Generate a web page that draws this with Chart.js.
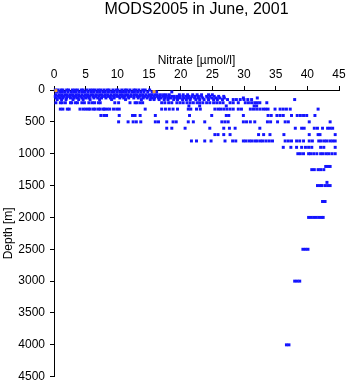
<!DOCTYPE html>
<html>
<head>
<meta charset="utf-8">
<script src="https://cdn.jsdelivr.net/npm/chart.js@4.4.0/dist/chart.umd.min.js"></script>
<style>
  body { margin: 0; background: #fff; }
  canvas { display: block; }
</style>
</head>
<body>
<canvas id="myChart" width="348" height="384"></canvas>
<script>
// standard depth levels [m] and the nitrate readings [umol/l] found at each
var depthLevels = [0, 30, 75, 100, 125, 150, 200, 250, 300, 400, 500, 600, 700, 800, 900, 1000, 1200, 1250, 1450, 1500, 1750, 2000, 2500, 3000, 4000];
var nitrateByLevel = [
  [0.2, 0.6, 1.1, 1.4, 2.0, 2.3, 2.9, 3.3, 3.7, 4.3, 4.6, 5.2, 5.7, 6.1, 6.5, 7.0, 7.4, 7.9, 8.4, 8.7, 9.3, 9.8, 10.1, 10.7, 11.2, 11.5, 12.0, 12.6, 12.9, 13.4, 14.0, 14.4, 15.1],
  [0.4, 0.9, 1.3, 1.7, 2.2, 2.7, 3.1, 3.5, 4.0, 4.5, 4.9, 5.4, 5.9, 6.3, 6.8, 7.2, 7.7, 8.1, 8.6, 9.1, 9.5, 10.0, 10.5, 10.9, 11.3, 11.8, 12.3, 12.7, 13.2, 13.7, 14.2, 14.8, 15.5, 16.2, 18.6],
  [0.3, 0.8, 1.2, 1.7, 2.1, 2.6, 3.0, 3.5, 3.9, 4.4, 4.9, 5.3, 5.8, 6.2, 6.7, 7.2, 7.6, 8.1, 8.5, 9.0, 9.5, 9.9, 10.4, 10.8, 11.3, 11.7, 12.2, 12.7, 13.1, 13.6, 14.0, 14.5, 15.0, 15.4, 15.9, 16.3, 16.8, 17.3, 17.7, 18.2, 19.8, 20.4, 21.1, 21.9, 22.6, 23.3, 24.4, 25.0],
  [0.2, 0.7, 1.2, 1.6, 2.1, 2.5, 3.0, 3.4, 3.9, 4.3, 4.8, 5.3, 5.7, 6.2, 6.6, 7.1, 7.6, 8.0, 8.5, 8.9, 9.4, 9.9, 10.3, 10.8, 11.2, 11.7, 12.1, 12.6, 13.1, 13.5, 14.0, 14.4, 14.9, 15.3, 15.8, 16.3, 16.7, 17.2, 17.6, 18.1, 18.6, 19.0, 19.5, 19.9, 20.4, 20.9, 21.3, 21.8, 22.3, 22.8, 23.3, 24.1, 24.6, 25.3, 26.0, 26.8],
  [0.3, 0.9, 1.4, 2.0, 2.6, 3.2, 3.7, 4.4, 5.0, 5.5, 6.3, 6.9, 7.5, 8.2, 8.9, 9.5, 10.4, 11.0, 11.8, 12.6, 13.3, 14.1, 14.7, 15.4, 15.9, 16.5, 16.9, 17.5, 18.0, 18.4, 19.0, 19.5, 19.9, 20.5, 21.1, 21.6, 22.2, 22.8, 23.5, 24.3, 24.9, 25.6, 26.2, 26.9, 29.9, 32.1],
  [0.5, 1.2, 1.9, 3.0, 3.9, 4.6, 5.7, 7.2, 9.1, 11.3, 13.8, 15.2, 15.8, 16.6, 17.4, 18.0, 18.9, 19.5, 20.3, 20.9, 21.5, 22.4, 23.0, 23.7, 24.4, 25.2, 25.8, 26.6, 27.4, 28.3, 28.8, 29.4, 30.0, 30.6, 31.2, 38.0],
  [0.3, 1.0, 1.3, 1.8, 2.6, 2.8, 3.4, 3.7, 4.4, 4.8, 5.5, 6.0, 6.4, 7.0, 7.3, 9.6, 10.2, 12.0, 12.8, 13.1, 13.6, 14.0, 17.0, 17.5, 18.1, 18.6, 19.4, 19.9, 20.4, 21.0, 21.5, 22.0, 22.6, 23.0, 23.5, 24.1, 24.6, 25.2, 25.7, 26.2, 26.7, 27.8, 28.3, 29.1, 30.2, 30.7, 31.2, 31.7, 32.1, 32.5, 33.6],
  [21.3, 23.0, 27.2, 31.6, 32.0],
  [1.0, 1.4, 2.1, 2.4, 4.1, 4.6, 5.0, 5.4, 5.7, 6.2, 6.5, 7.0, 7.3, 7.8, 8.0, 8.4, 8.8, 9.4, 9.9, 10.3, 14.4, 17.0, 17.6, 18.2, 18.8, 19.5, 21.2, 21.6, 22.5, 23.1, 25.4, 25.9, 26.3, 26.8, 27.3, 27.8, 28.3, 29.1, 29.6, 31.0, 31.5, 32.0, 32.5, 33.0, 33.4, 33.8, 34.9, 35.7, 36.2, 36.7, 37.3, 41.7],
  [7.4, 7.9, 8.3, 10.3, 12.4, 12.8, 13.6, 16.0, 21.4, 24.9, 27.2, 27.6, 29.9, 33.8, 34.3, 35.2, 35.7, 36.2, 37.5, 38.4, 38.9, 39.4, 39.9, 41.2],
  [10.2, 11.7, 12.5, 13.0, 13.7, 16.0, 16.5, 17.8, 18.8, 19.3, 21.2, 22.0, 23.8, 26.5, 27.0, 27.5, 29.9, 30.4, 31.0, 31.7, 33.7, 34.2, 35.3, 36.5, 37.0, 40.3, 43.6],
  [17.8, 18.6, 20.7, 24.6, 26.8, 27.7, 28.6, 32.5, 38.1, 39.1, 39.5, 41.1, 41.6, 42.4, 43.2, 43.6, 44.0],
  [25.4, 25.9, 26.8, 27.8, 32.3, 33.1, 34.1, 36.3, 40.3, 41.7, 42.0, 44.4],
  [21.7, 22.5, 23.8, 24.8, 27.0, 28.2, 28.7, 29.9, 30.3, 30.8, 31.2, 31.7, 32.1, 32.6, 33.0, 33.5, 34.0, 34.5, 36.5, 37.0, 37.5, 38.3, 38.8, 39.4, 40.3, 40.8, 41.8, 42.2, 42.7, 43.1, 43.6, 44.0, 44.4],
  [36.2, 37.4, 38.3, 39.1, 39.7, 40.2, 40.7, 42.1, 42.6, 44.4],
  [38.5, 38.9, 39.4, 40.2, 40.5, 41.0, 41.5, 42.1, 42.5, 43.0, 43.4, 43.9, 44.4],
  [42.9, 43.3, 43.6],
  [40.7, 41.1, 41.7, 42.1, 42.6],
  [43.1],
  [41.6, 42.0, 42.3, 42.8, 43.2, 43.6],
  [42.4, 42.8],
  [40.2, 40.6, 41.0, 41.4, 41.8, 42.2, 42.5],
  [39.3, 39.7, 40.1],
  [38.0, 38.4, 38.8],
  [36.7, 37.1]
];

// flagged samples, drawn in orange
var flaggedNitrate = [0.3, 15.8];
var flaggedDepth = [10, 25];

var xTicks = [0, 5, 10, 15, 20, 25, 30, 35, 40, 45];
var yTicks = [0, 500, 1000, 1500, 2000, 2500, 3000, 3500, 4000, 4500];

var samples = [];
depthLevels.forEach((d, i) => {
  nitrateByLevel[i].forEach(n => samples.push({ x: n, y: d }));
});
var flagged = flaggedNitrate.map((n, i) => ({ x: n, y: flaggedDepth[i] }));

Chart.defaults.font.family = "'Liberation Sans', Arial, Helvetica, sans-serif";
Chart.defaults.font.size = 12;
Chart.defaults.color = "#000";

new Chart("myChart", {
  type: "scatter",
  data: {
    datasets: [{
      data: flagged,
      pointStyle: "rect",
      pointRadius: 2.1,
      pointBorderWidth: 0,
      backgroundColor: "#f0a030",
      clip: false
    }, {
      data: samples,
      pointStyle: "rect",
      pointRadius: 2.1,
      pointBorderWidth: 0,
      backgroundColor: "rgb(20,20,255)",
      clip: false
    }]
  },
  options: {
    responsive: false,
    animation: false,
    devicePixelRatio: 1,
    events: [],
    layout: { padding: { left: 0, right: 9, top: 0, bottom: 7.3 } },
    plugins: {
      legend: { display: false },
      tooltip: { enabled: false },
      title: {
        display: true,
        fullSize: false,
        text: "MODS2005 in June, 2001",
        color: "#000",
        font: { size: 16, weight: "normal", lineHeight: 1 },
        padding: { top: 2, bottom: 0 }
      }
    },
    scales: {
      x: {
        type: "linear",
        position: "top",
        min: 0,
        max: 45,
        afterBuildTicks: s => { s.ticks = xTicks.map(v => ({ value: v })); },
        ticks: { padding: 4, maxRotation: 0, callback: v => String(v) },
        grid: { drawOnChartArea: false, tickLength: 4, color: "#000" },
        border: { color: "#000", width: 1 },
        title: { display: true, text: "Nitrate [µmol/l]", padding: { top: 35, bottom: 0 } },
        // fixed box size; end labels may run into the outer margin
        afterFit: s => { s.height = 72; s.paddingLeft = 0; s.paddingRight = 0; }
      },
      y: {
        type: "linear",
        reverse: true,
        min: 0,
        max: 4500,
        afterBuildTicks: s => { s.ticks = yTicks.map(v => ({ value: v })); },
        ticks: { padding: 5, callback: v => String(v) },
        grid: { drawOnChartArea: false, tickLength: 4, color: "#000" },
        border: { color: "#000", width: 1 },
        title: { display: true, text: "Depth [m]", padding: { top: 1, bottom: 0 } },
        afterFit: s => { s.width = 54; s.paddingTop = 0; s.paddingBottom = 0; }
      }
    }
  }
});
</script>
</body>
</html>
